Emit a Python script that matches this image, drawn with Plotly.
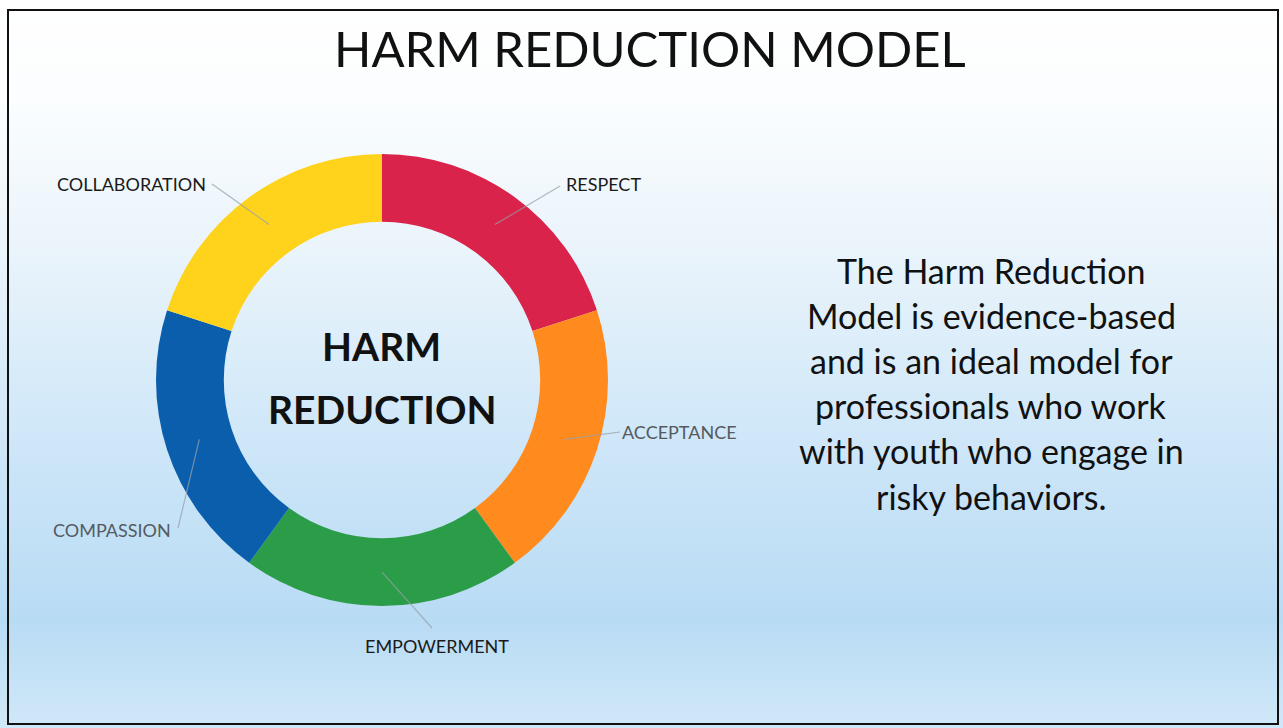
import math
import plotly.graph_objects as go

# ---- data ----
labels = ["RESPECT", "ACCEPTANCE", "EMPOWERMENT", "COMPASSION", "COLLABORATION"]
values = [1, 1, 1, 1, 1]
colors = ["#d9234a", "#ff8a1e", "#2b9c47", "#0a5eac", "#ffd21c"]
title_text = "HARM REDUCTION MODEL"
center_lines = ["HARM", "REDUCTION"]
body_lines = [
    "The Harm Reduction",
    "Model is evidence-based",
    "and is an ideal model for",
    "professionals who work",
    "with youth who engage in",
    "risky behaviors.",
]

W, H = 1283, 728
FONT = "Lato"

# pie geometry (pixels)
cx, cy, R = 382, 380, 226
hole = 0.70

fig = go.Figure()
fig.add_trace(go.Pie(
    labels=labels, values=values, sort=False, direction="clockwise", rotation=0,
    hole=hole, marker=dict(colors=colors, line=dict(width=0)),
    textinfo="none", hoverinfo="label", showlegend=False,
    domain=dict(x=[(cx - R) / W, (cx + R) / W], y=[1 - (cy + R) / H, 1 - (cy - R) / H]),
))

shapes = []
# background gradient
stops = [(0, (255, 255, 255)), (100, (251, 253, 254)), (250, (234, 244, 251)),
         (450, (205, 230, 248)), (620, (184, 219, 244)), (728, (208, 233, 249))]
def col_at(y):
    for (y0, c0), (y1, c1) in zip(stops[:-1], stops[1:]):
        if y0 <= y <= y1:
            t = (y - y0) / (y1 - y0)
            return tuple(int(round(a + (b - a) * t)) for a, b in zip(c0, c1))
    return stops[-1][1]
step = 8
for y in range(0, H, step):
    r, g, b = col_at(y + step / 2)
    shapes.append(dict(type="rect", xref="paper", yref="paper", x0=0, x1=1,
                       y0=1 - (y + step + 1) / H, y1=1 - y / H,
                       fillcolor=f"rgb({r},{g},{b})", line=dict(width=0), layer="below"))
# slide frame
shapes.append(dict(type="rect", xref="paper", yref="paper",
                   x0=8 / W, x1=1278 / W, y0=1 - 724 / H, y1=1 - 10 / H,
                   line=dict(color="#111111", width=2), fillcolor="rgba(0,0,0,0)", layer="above"))

annotations = []
def px(x, y):
    return x / W, 1 - y / H

# leader lines + labels
label_pos = {
    "RESPECT": (603, 184),
    "ACCEPTANCE": (680, 432),
    "EMPOWERMENT": (437, 646),
    "COMPASSION": (112, 530),
    "COLLABORATION": (131, 184),
}
line_end = {
    "RESPECT": (560, 186),
    "ACCEPTANCE": (620, 432),
    "EMPOWERMENT": (432, 628),
    "COMPASSION": (178, 528),
    "COLLABORATION": (212, 184),
}
total = sum(values)
acc = 0
rm = R * (1 + hole) / 2
for lab, v in zip(labels, values):
    mid = (acc + v / 2) / total * 2 * math.pi
    acc += v
    ax, ay = cx + rm * math.sin(mid), cy - rm * math.cos(mid)
    ex, ey = line_end[lab]
    x0, y0 = px(ax, ay)
    x1, y1 = px(ex, ey)
    shapes.append(dict(type="line", xref="paper", yref="paper", x0=x0, y0=y0, x1=x1, y1=y1,
                       line=dict(color="rgba(150,160,170,0.75)", width=1.2)))
    lx, ly = label_pos[lab]
    tx, ty = px(lx, ly)
    annotations.append(dict(text=lab, x=tx, y=ty, xref="paper", yref="paper",
                            showarrow=False, xanchor="center", yanchor="middle",
                            font=dict(family=FONT, size=18,
                                      color="#555a60" if lab in ("COMPASSION", "ACCEPTANCE") else "#1a1a1a")))

# title
tx, ty = px(650, 48)
annotations.append(dict(text=title_text, x=tx, y=ty, xref="paper", yref="paper", showarrow=False,
                        xanchor="center", yanchor="middle",
                        font=dict(family=FONT, size=49, color="#111111")))
# center text
for i, t in enumerate(center_lines):
    tx, ty = px(cx, 346 + i * 63)
    annotations.append(dict(text=f"<b>{t}</b>", x=tx, y=ty, xref="paper", yref="paper", showarrow=False,
                            xanchor="center", yanchor="middle",
                            font=dict(family=FONT, size=39, color="#111111")))
# body text
for i, t in enumerate(body_lines):
    tx, ty = px(991, 270 + i * 45.2)
    annotations.append(dict(text=t, x=tx, y=ty, xref="paper", yref="paper", showarrow=False,
                            xanchor="center", yanchor="middle",
                            font=dict(family=FONT, size=34, color="#111111")))

fig.update_layout(width=W, height=H, margin=dict(l=0, r=0, t=0, b=0),
                  paper_bgcolor="white", plot_bgcolor="white",
                  shapes=shapes, annotations=annotations)
fig.write_html("out.html", config={"displayModeBar": False},
               post_script="document.body.style.margin='0';document.body.style.overflow='hidden';")
